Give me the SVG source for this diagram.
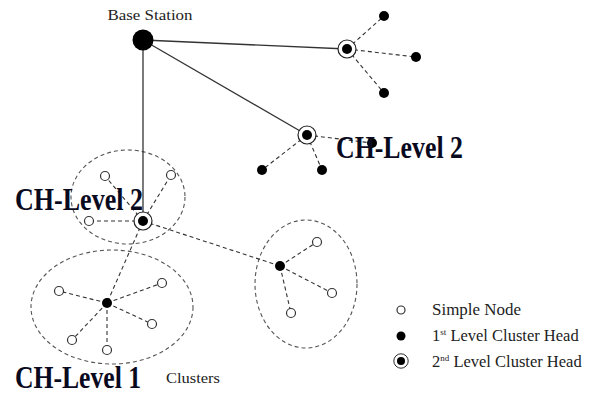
<svg xmlns="http://www.w3.org/2000/svg" width="595" height="395" viewBox="0 0 595 395">
<style>
.solid{stroke:#333;stroke-width:1.3;fill:none}
.dash{stroke:#333;stroke-width:1.1;stroke-dasharray:4 3;fill:none}
.cl{stroke:#555;stroke-width:1.1;stroke-dasharray:4 3;fill:none}
.sn{fill:#fff;stroke:#333;stroke-width:1.2}
.ch1{fill:#000}
.ring{fill:#fff;stroke:#222;stroke-width:1.2}
.big{font-family:"Liberation Serif",serif;font-weight:bold;font-size:31px;fill:#0a0a1e}
.lbl{font-family:"Liberation Serif",serif;font-size:15px;fill:#222}
.leg{font-family:"Liberation Serif",serif;font-size:16.5px;fill:#222}
</style>
<defs>
<g id="ch2sym"><circle r="9" class="ring"/><circle r="5" fill="#000"/></g>
</defs>
<g id="clusters">
<ellipse class="cl" cx="128" cy="197" rx="57" ry="47"/>
<ellipse class="cl" cx="112" cy="307" rx="81" ry="57"/>
<ellipse class="cl" cx="306" cy="284" rx="51" ry="64"/>
</g>
<g id="connectors">
<line class="solid" x1="143" y1="40" x2="347" y2="49"/>
<line class="solid" x1="143" y1="40" x2="307" y2="135"/>
<line class="solid" x1="143" y1="40" x2="143" y2="221"/>
<line class="dash" x1="347" y1="49" x2="384" y2="16"/>
<line class="dash" x1="347" y1="49" x2="416" y2="57"/>
<line class="dash" x1="347" y1="49" x2="384" y2="93"/>
<line class="dash" x1="307" y1="135" x2="262" y2="170"/>
<line class="dash" x1="307" y1="135" x2="322" y2="170"/>
<line class="dash" x1="307" y1="135" x2="372" y2="143"/>
<line class="dash" x1="143" y1="221" x2="105" y2="176"/>
<line class="dash" x1="143" y1="221" x2="171" y2="175"/>
<line class="dash" x1="143" y1="221" x2="89" y2="221"/>
<line class="dash" x1="143" y1="221" x2="107" y2="303"/>
<line class="dash" x1="143" y1="221" x2="280" y2="266"/>
<line class="dash" x1="107" y1="303" x2="59" y2="291"/>
<line class="dash" x1="107" y1="303" x2="162" y2="283"/>
<line class="dash" x1="107" y1="303" x2="152" y2="324"/>
<line class="dash" x1="107" y1="303" x2="72" y2="340"/>
<line class="dash" x1="107" y1="303" x2="107" y2="350"/>
<line class="dash" x1="280" y1="266" x2="317" y2="242"/>
<line class="dash" x1="280" y1="266" x2="332" y2="293"/>
<line class="dash" x1="280" y1="266" x2="291" y2="313"/>
</g>
<g id="base-station"><circle cx="143" cy="40" r="10.5" fill="#000"/><text class="lbl" x="150" y="20" text-anchor="middle" textLength="85" lengthAdjust="spacingAndGlyphs">Base Station</text></g>
<g id="ch2-top"><use href="#ch2sym" x="347" y="49"/></g>
<g id="n-t1"><circle class="ch1" cx="384" cy="16" r="5"/></g>
<g id="n-t2"><circle class="ch1" cx="416" cy="57" r="5"/></g>
<g id="n-t3"><circle class="ch1" cx="384" cy="93" r="5"/></g>
<g id="ch2-mid"><use href="#ch2sym" x="307" y="135"/></g>
<g id="n-m1"><circle class="ch1" cx="262" cy="170" r="5"/></g>
<g id="n-m2"><circle class="ch1" cx="322" cy="170" r="5"/></g>
<g id="n-m3"><circle class="ch1" cx="372" cy="143" r="5"/></g>
<g id="ch2-left"><use href="#ch2sym" x="143" y="221"/></g>
<g id="s-l1"><circle class="sn" cx="105" cy="176" r="4.5"/></g>
<g id="s-l2"><circle class="sn" cx="171" cy="175" r="4.5"/></g>
<g id="s-l3"><circle class="sn" cx="89" cy="221" r="4.5"/></g>
<g id="ch1-left"><circle class="ch1" cx="107" cy="303" r="5"/></g>
<g id="s-b1"><circle class="sn" cx="59" cy="291" r="4.5"/></g>
<g id="s-b2"><circle class="sn" cx="162" cy="283" r="4.5"/></g>
<g id="s-b3"><circle class="sn" cx="152" cy="324" r="4.5"/></g>
<g id="s-b4"><circle class="sn" cx="72" cy="340" r="4.5"/></g>
<g id="s-b5"><circle class="sn" cx="107" cy="350" r="4.5"/></g>
<g id="ch1-right"><circle class="ch1" cx="280" cy="266" r="5"/></g>
<g id="s-r1"><circle class="sn" cx="317" cy="242" r="4.5"/></g>
<g id="s-r2"><circle class="sn" cx="332" cy="293" r="4.5"/></g>
<g id="s-r3"><circle class="sn" cx="291" cy="313" r="4.5"/></g>
<g id="labels">
<text class="big" x="336" y="158" textLength="127" lengthAdjust="spacingAndGlyphs">CH-Level 2</text>
<text class="big" x="15" y="210" textLength="128" lengthAdjust="spacingAndGlyphs">CH-Level 2</text>
<text class="big" x="15" y="388" textLength="126" lengthAdjust="spacingAndGlyphs">CH-Level 1</text>
<text class="lbl" x="166" y="383" font-size="13" textLength="54" lengthAdjust="spacingAndGlyphs">Clusters</text>
</g>
<g id="legend">
<circle class="sn" cx="401" cy="310" r="4"/>
<text class="leg" x="432" y="315" textLength="89" lengthAdjust="spacingAndGlyphs">Simple Node</text>
<circle class="ch1" cx="401" cy="336" r="4.5"/>
<text class="leg" x="432" y="341">1<tspan font-size="9" dy="-6">st</tspan><tspan dy="6"> Level Cluster Head</tspan></text>
<use href="#ch2sym" transform="translate(401 361) scale(0.8)"/>
<text class="leg" x="432" y="367">2<tspan font-size="9" dy="-6">nd</tspan><tspan dy="6"> Level Cluster Head</tspan></text>
</g>
</svg>
